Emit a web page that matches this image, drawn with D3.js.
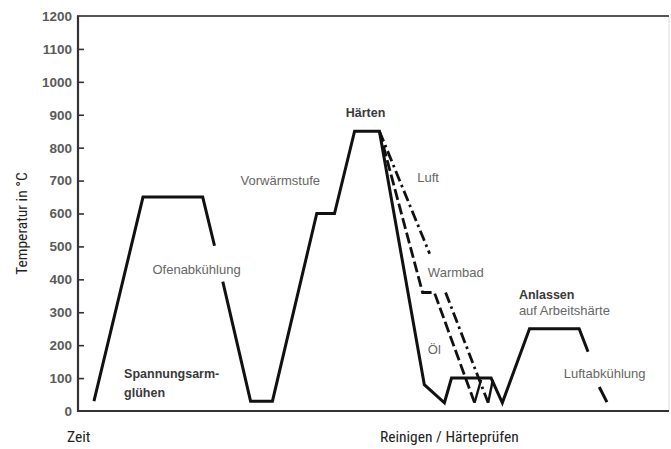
<!DOCTYPE html>
<html>
<head>
<meta charset="utf-8">
<script src="https://cdn.jsdelivr.net/npm/d3@7"></script>
<style>
	body { margin: 0; background: #fff; }
	svg { display: block; }
	.tick-label { font-family: "Liberation Sans", Arial, sans-serif; font-weight: bold; font-size: 13.5px; fill: #5a5a5a; }
	.axis-title { font-family: "Liberation Sans Narrow", "Roboto Condensed", Arial, sans-serif; font-size: 15.5px; fill: #222; }
	.note { font-family: "Liberation Sans", Arial, sans-serif; font-size: 13px; fill: #666; }
	.note-bold { font-family: "Liberation Sans", Arial, sans-serif; font-size: 12.5px; font-weight: bold; fill: #3a3a3a; }
</style>
</head>
<body>
<div id="chart"></div>
<script>
//////////////////////////// data /////////////////////////////////////////

// y ticks in °C
const yTicks = [0, 100, 200, 300, 400, 500, 600, 700, 800, 900, 1000, 1100, 1200];

// main process curve [time, temperature], null = gap for a label
const mainTime = [2.7, 11.0, 21.1, 23.1, null, 24.5, 29.2, 32.9, 40.4, 43.4, 46.8, 51.0, 58.6, 62.0, 63.2, 69.9, 71.8, 76.4, 84.8, 86.3, null, 88.2, 89.5];
const mainTemp = [30, 650, 650, 502, null, 393, 30, 30, 600, 600, 850, 850, 80, 25, 100, 100, 25, 250, 250, 180, null, 73, 27];

// Warmbad quench (dashed)
const warmTime = [51.0, 58.3, 60.3, 67.1];
const warmTemp = [850, 360, 360, 25];

// Luft quench (dash-dot), gap for "Warmbad" label
const luftTime = [51.0, 59.5, null, 62.2, 69.4];
const luftTemp = [850, 478, null, 360, 25];

// short returns of the quench paths to the cleaning plateau
const backTime = [[67.1, 68.2], [69.4, 70.2]];
const backTemp = [[25, 95], [25, 95]];

// annotations [text, time, temperature, bold]
const labels = [
	["Spannungsarm-", 7.8, 113, true],
	["glühen", 7.8, 57, true],
	["Ofenabkühlung", 12.6, 430, false],
	["Vorwärmstufe", 27.5, 700, false],
	["Härten", 45.3, 905, true],
	["Luft", 57.4, 710, false],
	["Warmbad", 59.2, 420, false],
	["Öl", 59.2, 188, false],
	["Anlassen", 74.6, 355, true],
	["auf Arbeitshärte", 74.6, 305, false],
	["Luftabkühlung", 82.2, 115, false]
];

//////////////////////////// sizes ////////////////////////////////////////

const width = 671;
const height = 449;
const margin = { top: 16, right: 1, bottom: 38, left: 78 };

const svg = d3.select("#chart").append("svg")
	.attr("width", width)
	.attr("height", height);

//////////////////////////// scales ///////////////////////////////////////

const xScale = d3.scaleLinear()
	.domain([0, 100])
	.range([margin.left, width - margin.right - 1]);

const yScale = d3.scaleLinear()
	.domain([0, 1200])
	.range([height - margin.bottom, margin.top]);

//////////////////////////// frame ////////////////////////////////////////

// faint right border
svg.append("line")
	.attr("x1", xScale(100)).attr("x2", xScale(100))
	.attr("y1", yScale(1200)).attr("y2", yScale(0))
	.attr("stroke", "#ddd").attr("stroke-width", 1);

// top line
svg.append("line")
	.attr("x1", xScale(0) - 1).attr("x2", xScale(100))
	.attr("y1", yScale(1200)).attr("y2", yScale(1200))
	.attr("stroke", "#555").attr("stroke-width", 2.2);

// bottom line
svg.append("line")
	.attr("x1", xScale(0) - 1).attr("x2", xScale(100))
	.attr("y1", yScale(0)).attr("y2", yScale(0))
	.attr("stroke", "#333").attr("stroke-width", 2.2);

//////////////////////////// y axis ///////////////////////////////////////

const yAxis = svg.append("g")
	.attr("transform", `translate(${xScale(0)},0)`)
	.call(d3.axisRight(yScale)
		.tickValues(yTicks.filter(d => d > 0 && d < 1200))
		.tickSize(6)
		.tickFormat(""));

yAxis.select(".domain")
	.attr("d", `M0,${yScale(1200)}V${yScale(0) + 1}`)
	.attr("stroke", "#333")
	.attr("stroke-width", 2.2);
yAxis.selectAll(".tick line").attr("stroke", "#333").attr("stroke-width", 1.6);

svg.append("g")
	.selectAll("text")
	.data(yTicks)
	.join("text")
	.attr("class", "tick-label")
	.attr("x", xScale(0) - 6)
	.attr("y", d => yScale(d))
	.attr("dy", "0.36em")
	.attr("text-anchor", "end")
	.text(d => d);

svg.append("text")
	.attr("class", "axis-title")
	.attr("transform", `translate(27,${yScale(600) + 10}) rotate(-90)`)
	.attr("text-anchor", "middle")
	.text("Temperatur in °C");

svg.append("text")
	.attr("class", "axis-title")
	.attr("x", 67).attr("y", 442)
	.text("Zeit");

svg.append("text")
	.attr("class", "axis-title")
	.attr("x", 380).attr("y", 442)
	.text("Reinigen / Härteprüfen");

//////////////////////////// curves ///////////////////////////////////////

const zip = (ts, vs) => ts.map((t, i) => (t === null ? null : [t, vs[i]]));

const line = d3.line()
	.defined(d => d !== null)
	.x(d => xScale(d[0]))
	.y(d => yScale(d[1]));

const plot = svg.append("g")
	.attr("fill", "none")
	.attr("stroke", "#111")
	.attr("stroke-linejoin", "miter");

plot.append("path")
	.attr("d", line(zip(warmTime, warmTemp)))
	.attr("stroke-width", 2.8)
	.attr("stroke-dasharray", "11 4");

plot.append("path")
	.attr("d", line(zip(luftTime, luftTemp)))
	.attr("stroke-width", 2.8)
	.attr("stroke-dasharray", "11 4 2.5 4");

backTime.forEach((ts, i) => {
	plot.append("path")
		.attr("d", line(zip(ts, backTemp[i])))
		.attr("stroke-width", 2.4);
});

plot.append("path")
	.attr("d", line(zip(mainTime, mainTemp)))
	.attr("stroke-width", 3);

//////////////////////////// labels ///////////////////////////////////////

svg.append("g")
	.selectAll("text")
	.data(labels)
	.join("text")
	.attr("class", d => (d[3] ? "note-bold" : "note"))
	.attr("x", d => xScale(d[1]))
	.attr("y", d => yScale(d[2]))
	.attr("dy", "0.35em")
	.text(d => d[0]);
</script>
</body>
</html>
